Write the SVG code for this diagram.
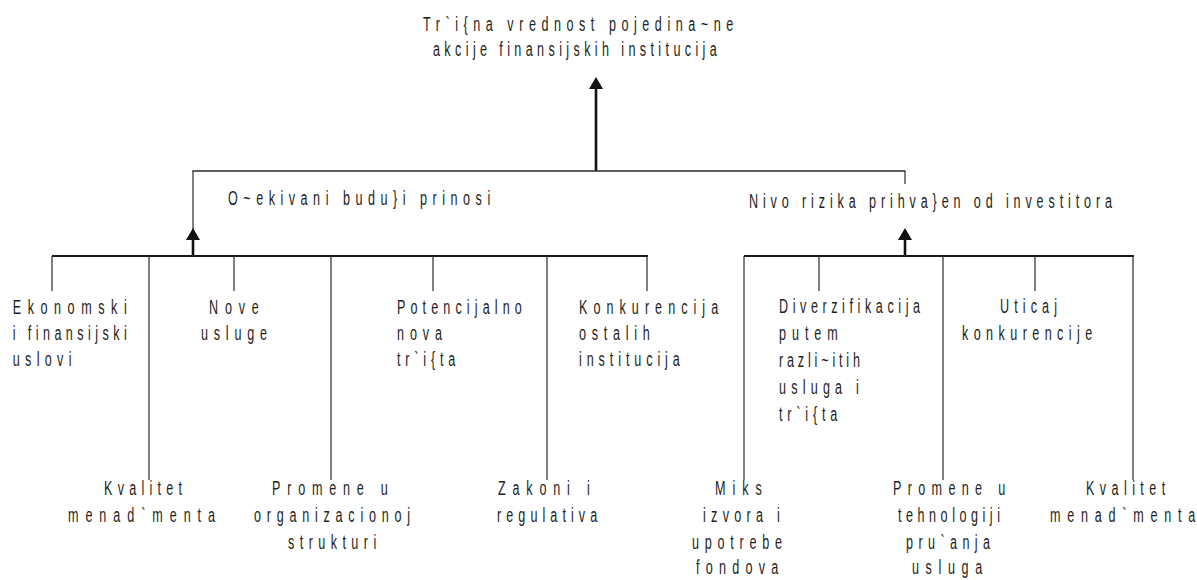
<svg xmlns="http://www.w3.org/2000/svg" width="1197" height="580" viewBox="0 0 1197 580">
<style>
.t{font-family:"Liberation Sans",Arial,sans-serif;font-size:21px;fill:#1e1e1e}
.thin{stroke:#2a2a2a;stroke-width:1.2;fill:none}
.bar{stroke:#1a1a1a;stroke-width:2;fill:none}
.stem{stroke:#111;stroke-width:2.6;fill:none}
</style>
<defs>
<marker id="ah" viewBox="0 0 12 14" refX="4" refY="7" markerWidth="12" markerHeight="14" markerUnits="userSpaceOnUse" orient="auto">
<path d="M0,0 L12,7 L0,14 z" fill="#111"/>
</marker>
</defs>
<rect width="1197" height="580" fill="#fff"/>
<g id="connectors">
<line class="stem" x1="596" y1="171" x2="596" y2="85" marker-end="url(#ah)"/>
<line class="thin" x1="192.5" y1="171" x2="905.5" y2="171" style="stroke-width:1.4"/>
<line class="thin" x1="193" y1="171" x2="193" y2="238"/>
<line class="stem" x1="193" y1="256" x2="193" y2="236" marker-end="url(#ah)"/>
<line class="thin" x1="905" y1="171" x2="905" y2="184"/>
<line class="stem" x1="905" y1="256" x2="905" y2="236" marker-end="url(#ah)"/>
<line class="bar" x1="52" y1="256" x2="648" y2="256"/>
<line class="bar" x1="744" y1="256" x2="1134" y2="256"/>
<line class="thin" x1="52" y1="256" x2="52" y2="291"/>
<line class="thin" x1="234" y1="256" x2="234" y2="291"/>
<line class="thin" x1="433" y1="256" x2="433" y2="291"/>
<line class="thin" x1="647" y1="256" x2="647" y2="291"/>
<line class="thin" x1="819" y1="256" x2="819" y2="291"/>
<line class="thin" x1="1035" y1="256" x2="1035" y2="291"/>
<line class="thin" x1="149" y1="256" x2="149" y2="480"/>
<line class="thin" x1="331" y1="256" x2="331" y2="480"/>
<line class="thin" x1="547" y1="256" x2="547" y2="480"/>
<line class="thin" x1="744" y1="256" x2="744" y2="480"/>
<line class="thin" x1="943" y1="256" x2="943" y2="480"/>
<line class="thin" x1="1133" y1="256" x2="1133" y2="480"/>
</g>
<g id="root">
<text class="t" transform="translate(423,31) scale(0.6,1)" textLength="517" lengthAdjust="spacing">Tr`i{na vrednost pojedina~ne</text>
<text class="t" transform="translate(433,56) scale(0.6,1)" textLength="473" lengthAdjust="spacing">akcije finansijskih institucija</text>
</g>
<g id="returns">
<text class="t" transform="translate(228,205) scale(0.6,1)" textLength="437" lengthAdjust="spacing">O~ekivani budu}i prinosi</text>
</g>
<g id="risk">
<text class="t" transform="translate(749,208) scale(0.6,1)" textLength="605" lengthAdjust="spacing">Nivo rizika prihva}en od investitora</text>
</g>
<g id="ekonomski">
<text class="t" transform="translate(12.7,314) scale(0.6,1)" textLength="190" lengthAdjust="spacing">Ekonomski</text>
<text class="t" transform="translate(12.7,340) scale(0.6,1)" textLength="190" lengthAdjust="spacing">i finansijski</text>
<text class="t" transform="translate(12.7,366) scale(0.6,1)" textLength="98" lengthAdjust="spacing">uslovi</text>
</g>
<g id="nove">
<text class="t" transform="translate(209,314) scale(0.6,1)" textLength="83" lengthAdjust="spacing">Nove</text>
<text class="t" transform="translate(201,340) scale(0.6,1)" textLength="110" lengthAdjust="spacing">usluge</text>
</g>
<g id="potencijalno">
<text class="t" transform="translate(397,314) scale(0.6,1)" textLength="208" lengthAdjust="spacing">Potencijalno</text>
<text class="t" transform="translate(397,340) scale(0.6,1)" textLength="75" lengthAdjust="spacing">nova</text>
<text class="t" transform="translate(397,366) scale(0.6,1)" textLength="97" lengthAdjust="spacing">tr`i{ta</text>
</g>
<g id="konkurencija">
<text class="t" transform="translate(579,314) scale(0.6,1)" textLength="232" lengthAdjust="spacing">Konkurencija</text>
<text class="t" transform="translate(579,340) scale(0.6,1)" textLength="118" lengthAdjust="spacing">ostalih</text>
<text class="t" transform="translate(579,366) scale(0.6,1)" textLength="168" lengthAdjust="spacing">institucija</text>
</g>
<g id="kvalitet-1">
<text class="t" transform="translate(104,495) scale(0.6,1)" textLength="130" lengthAdjust="spacing">Kvalitet</text>
<text class="t" transform="translate(68,522) scale(0.6,1)" textLength="245" lengthAdjust="spacing">menad`menta</text>
</g>
<g id="promene-org">
<text class="t" transform="translate(272,495) scale(0.6,1)" textLength="193" lengthAdjust="spacing">Promene u</text>
<text class="t" transform="translate(254,522) scale(0.6,1)" textLength="260" lengthAdjust="spacing">organizacionoj</text>
<text class="t" transform="translate(288,549) scale(0.6,1)" textLength="147" lengthAdjust="spacing">strukturi</text>
</g>
<g id="zakoni">
<text class="t" transform="translate(498,495) scale(0.6,1)" textLength="153" lengthAdjust="spacing">Zakoni i</text>
<text class="t" transform="translate(497,522) scale(0.6,1)" textLength="167" lengthAdjust="spacing">regulativa</text>
</g>
<g id="diverzifikacija">
<text class="t" transform="translate(779,313) scale(0.6,1)" textLength="235" lengthAdjust="spacing">Diverzifikacija</text>
<text class="t" transform="translate(779,340) scale(0.6,1)" textLength="98" lengthAdjust="spacing">putem</text>
<text class="t" transform="translate(779,367) scale(0.6,1)" textLength="135" lengthAdjust="spacing">razli~itih</text>
<text class="t" transform="translate(779,394) scale(0.6,1)" textLength="133" lengthAdjust="spacing">usluga i</text>
<text class="t" transform="translate(779,421) scale(0.6,1)" textLength="97" lengthAdjust="spacing">tr`i{ta</text>
</g>
<g id="uticaj">
<text class="t" transform="translate(1000,313) scale(0.6,1)" textLength="95" lengthAdjust="spacing">Uticaj</text>
<text class="t" transform="translate(962,340) scale(0.6,1)" textLength="217" lengthAdjust="spacing">konkurencije</text>
</g>
<g id="miks">
<text class="t" transform="translate(715,495) scale(0.6,1)" textLength="78" lengthAdjust="spacing">Miks</text>
<text class="t" transform="translate(703,522) scale(0.6,1)" textLength="128" lengthAdjust="spacing">izvora i</text>
<text class="t" transform="translate(692,549) scale(0.6,1)" textLength="150" lengthAdjust="spacing">upotrebe</text>
<text class="t" transform="translate(696,574) scale(0.6,1)" textLength="137" lengthAdjust="spacing">fondova</text>
</g>
<g id="promene-teh">
<text class="t" transform="translate(893,495) scale(0.6,1)" textLength="187" lengthAdjust="spacing">Promene u</text>
<text class="t" transform="translate(898,522) scale(0.6,1)" textLength="170" lengthAdjust="spacing">tehnologiji</text>
<text class="t" transform="translate(906,549) scale(0.6,1)" textLength="140" lengthAdjust="spacing">pru`anja</text>
<text class="t" transform="translate(912,574) scale(0.6,1)" textLength="117" lengthAdjust="spacing">usluga</text>
</g>
<g id="kvalitet-2">
<text class="t" transform="translate(1086,495) scale(0.6,1)" textLength="132" lengthAdjust="spacing">Kvalitet</text>
<text class="t" transform="translate(1050,522) scale(0.6,1)" textLength="242" lengthAdjust="spacing">menad`menta</text>
</g>
</svg>
